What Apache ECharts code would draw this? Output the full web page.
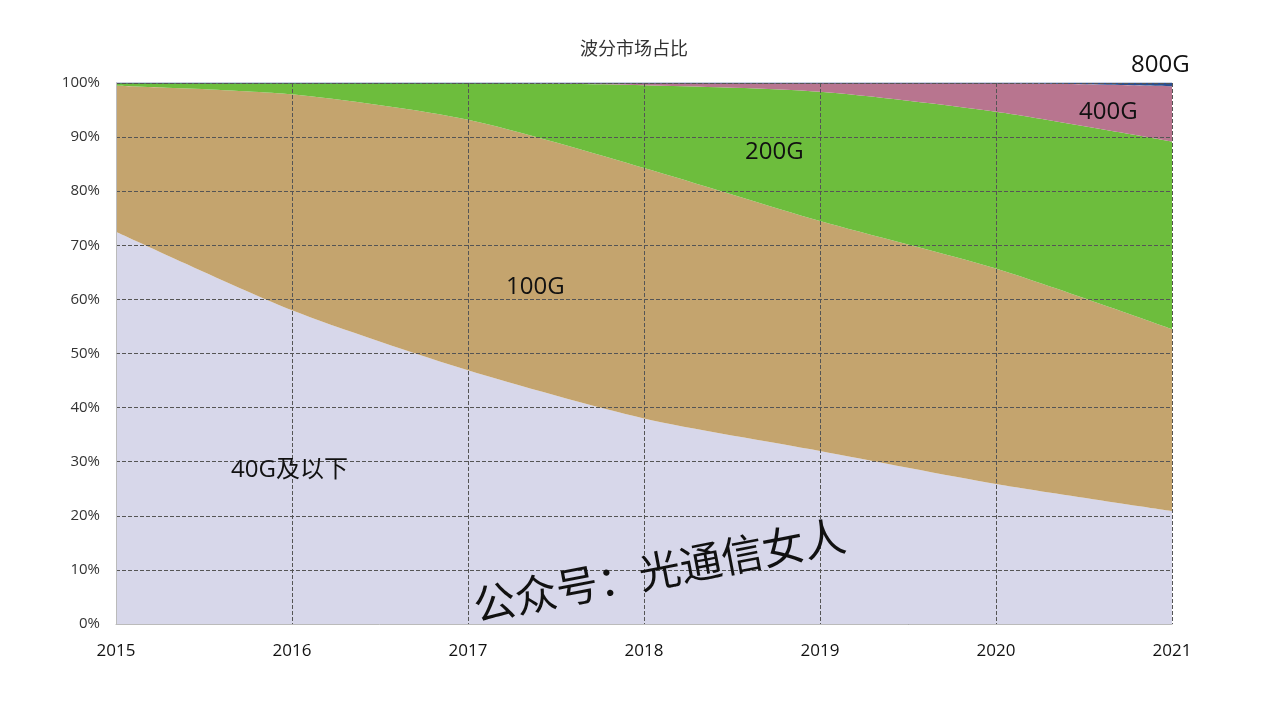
<!DOCTYPE html>
<html>
<head>
<meta charset="utf-8">
<script src="https://cdn.jsdelivr.net/npm/echarts@6/dist/echarts.min.js"></script>
<style>html,body{margin:0;padding:0;background:#fff;}#c{width:1268px;height:714px;}</style>
</head>
<body>
<div id="c"></div>
<script>
var years = ['2015','2016','2017','2018','2019','2020','2021'];
var s40 = [72.5, 58.0, 46.9, 38.0, 32.0, 25.9, 20.9];
var s100 = [27.0, 39.9, 46.3, 46.3, 42.5, 39.8, 33.6];
var s200 = [0.5, 2.1, 6.8, 15.3, 23.9, 29.0, 34.7];
var s400 = [0, 0, 0, 0.4, 1.6, 5.3, 10.2];
var s800 = [0, 0, 0, 0, 0, 0, 0.6];
var names = ['40G及以下', '100G', '200G', '400G', '800G'];
var colors = ['#d7d7ea', '#c4a46e', '#6dbd3d', '#b8758f', '#2c4f8f'];
var yTicks = [0,10,20,30,40,50,60,70,80,90,100];

var font = '"Open Sans", "Noto Sans CJK SC", sans-serif';
var chart = echarts.init(document.getElementById('c'));
var seriesData = [s40, s100, s200, s400, s800];
var series = seriesData.map(function (d, i) {
  return {
    name: names[i], type: 'line', stack: 'total', data: d,
    smooth: 0.25, symbol: 'none',
    lineStyle: { width: i === 4 ? 1 : 0, color: colors[i] },
    areaStyle: { color: colors[i], opacity: 1 },
    z: 2
  };
});
function label(txt, x, y, size) {
  return { type: 'text', x: x, y: y, z: 10,
    style: { text: txt, fontSize: size, fill: '#111', fontFamily: font, verticalAlign: 'middle' } };
}
chart.setOption({
  animation: false,
  backgroundColor: '#fff',
  title: { text: '波分市场占比', left: 'center', top: 36,
    textStyle: { fontSize: 18, fontWeight: 'normal', color: '#333', fontFamily: font } },
  grid: { left: 116, right: 96, top: 83, bottom: 90 },
  xAxis: {
    type: 'category', data: years, boundaryGap: false,
    axisLine: { show: true, lineStyle: { color: '#bbb' } },
    axisTick: { show: false },
    axisLabel: { fontSize: 17, color: '#111', margin: 19, fontFamily: font },
    splitLine: { show: true, lineStyle: { type: 'dashed', color: '#555', width: 1 } },
    z: 5
  },
  yAxis: {
    type: 'value', min: yTicks[0], max: yTicks[yTicks.length - 1], interval: 10,
    axisLine: { show: true, lineStyle: { color: '#bbb' } },
    axisTick: { show: false },
    axisLabel: { formatter: '{value}%', fontSize: 15, color: '#333', margin: 16, fontFamily: font },
    splitLine: { show: true, lineStyle: { type: 'dashed', color: '#555', width: 1 } },
    z: 5
  },
  series: series,
  graphic: [
    label('800G', 1131, 65, 24),
    label('400G', 1079, 112, 24),
    label('200G', 745, 152, 24),
    label('100G', 506, 287, 24),
    label('40G及以下', 231, 470, 24),
    { type: 'text', x: 660, y: 574, rotation: 0.19, z: 10,
      style: { text: '公众号：光通信女人', fontSize: 42, fill: '#111', fontFamily: font, align: 'center', verticalAlign: 'middle' } }
  ]
});
</script>
</body>
</html>
